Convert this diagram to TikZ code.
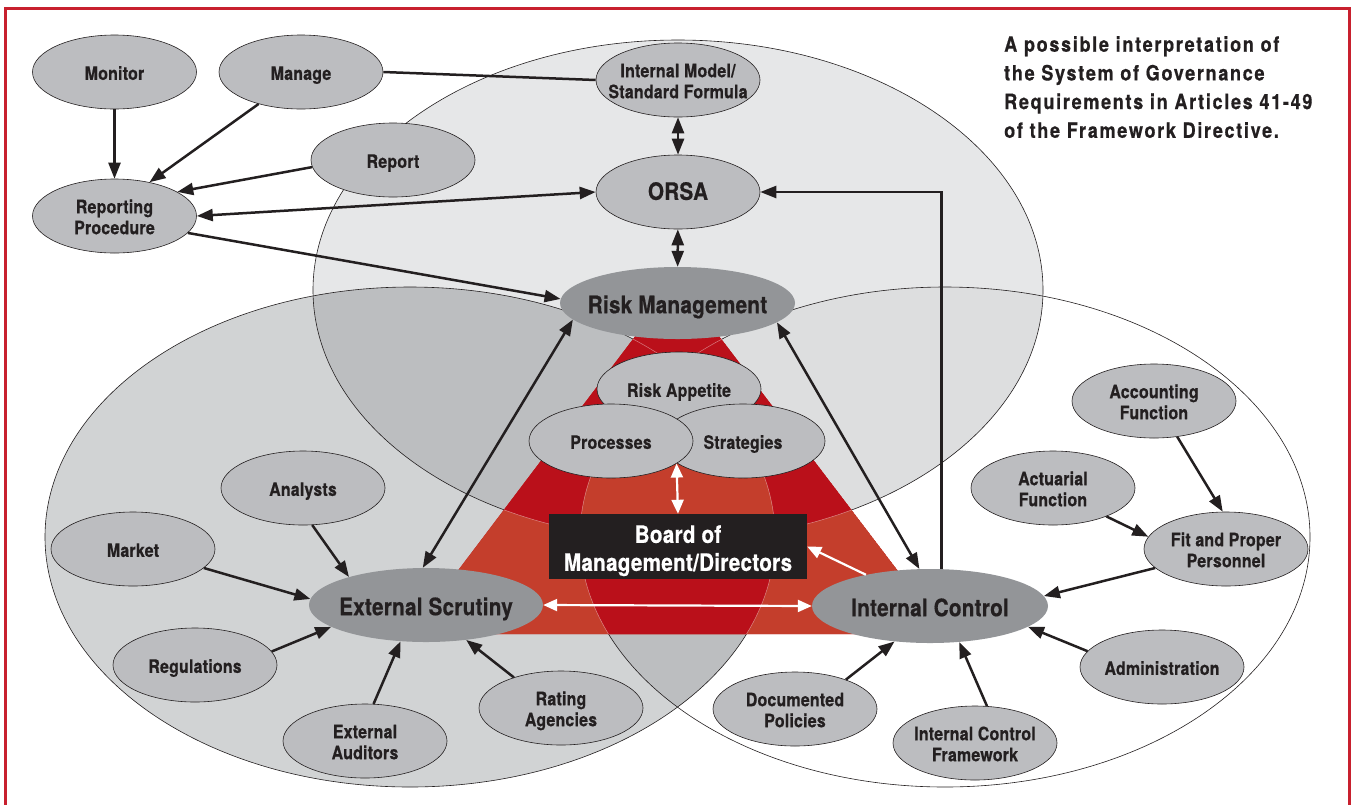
\documentclass[tikz,border=0pt]{standalone}
\usepackage{fontspec}
\newfontfamily\hfont{TeX Gyre Heros}[FakeStretch=0.86,LetterSpace=1.2,BoldFeatures={FakeBold=0.6}]
\newfontfamily\tfont{TeX Gyre Heros}[FakeStretch=0.86,LetterSpace=8,BoldFeatures={FakeBold=0.6}]
\usetikzlibrary{shapes.geometric,arrows.meta}
\definecolor{framec}{RGB}{200,32,46}
\definecolor{topc}{RGB}{230,231,232}
\definecolor{leftc}{RGB}{209,211,212}
\definecolor{ovl}{RGB}{188,190,192}
\definecolor{trc}{RGB}{221,222,223}
\definecolor{dred}{RGB}{186,16,26}
\definecolor{lred}{RGB}{196,62,44}
\definecolor{nodec}{RGB}{188,189,192}
\definecolor{mainc}{RGB}{147,149,152}
\definecolor{ink}{RGB}{35,31,32}
\newcommand{\oneL}[1]{\makebox[0pt]{\raisebox{-0.425em}[0pt][0pt]{#1}}}
\newcommand{\twoL}[2]{\makebox[0pt]{\raisebox{0.15em}[0pt][0pt]{\begin{tabular}[t]{@{}c@{}}#1\\#2\end{tabular}}}}
\begin{document}
\begin{tikzpicture}[x=1pt,y=-1pt,
  topE/.style={insert path={(678,290) ellipse [x radius=365pt, y radius=250pt]}},
  leftE/.style={insert path={(410,537) ellipse [x radius=365pt, y radius=250pt]}},
  rightE/.style={insert path={(945,537) ellipse [x radius=365pt, y radius=250pt]}},
  tri/.style={insert path={(677,281) -- (410,634) -- (946,634) -- cycle}},
  el/.style={ellipse, draw=ink, line width=0.6pt, fill=nodec, inner sep=0pt,
    minimum width=164pt, minimum height=74pt, text=ink,
    font=\hfont\bfseries\fontsize{18.5}{21}\selectfont},
  mainel/.style={ellipse, fill=mainc, inner sep=0pt, minimum width=235pt,
    minimum height=74pt, text=ink, font=\hfont\bfseries\fontsize{24}{28}\selectfont},
  boardbox/.style={rectangle, fill=ink, inner sep=0pt, minimum width=258pt,
    minimum height=65pt, text=white, font=\hfont\bfseries\fontsize{24}{28}\selectfont},
  tip/.tip={Triangle[length=16pt,width=12pt]},
  wtip/.tip={Triangle[length=14pt,width=12pt]},
  link/.style={draw=ink, line width=2.5pt},
  arr/.style={draw=ink, line width=2.5pt, -tip},
  darr/.style={draw=ink, line width=2.5pt, tip-tip},
  warr/.style={draw=white, line width=2.2pt, -wtip},
  wdarr/.style={draw=white, line width=2.2pt, wtip-wtip},
  circline/.style={draw=ink, line width=0.6pt}
]
\useasboundingbox (0,0) rectangle (1354,804);
\clip (0,0) rectangle (1354,804);

% big circles
\fill[leftc, leftE];
\begin{scope}
  \path[clip, leftE];
  \fill[ovl, rightE];
\end{scope}
\fill[topc, topE];
\begin{scope}
  \path[clip, topE];
  \fill[trc, rightE];
  \fill[ovl, leftE];
\end{scope}
\path[circline, topE];
\path[circline, leftE];
\path[circline, rightE];

% red triangle
\begin{scope}
  \path[clip, tri];
  \fill[dred, tri];
  \fill[lred, leftE];
  \fill[lred, rightE];
  \begin{scope}
    \path[clip, leftE];
    \fill[dred, rightE];
  \end{scope}
  \fill[dred, topE];
  \begin{scope}
    \path[clip, topE];
    \path[clip, leftE];
    \fill[lred, rightE];
  \end{scope}
  \path[draw=white, draw opacity=0.45, line width=0.5pt, topE];
  \path[draw=white, draw opacity=0.45, line width=0.5pt, leftE];
  \path[draw=white, draw opacity=0.45, line width=0.5pt, rightE];
\end{scope}

% frame
\draw[framec, line width=2.6pt] (5.5,8.5) rectangle (1349.5,840);

% title
\node[anchor=base west, inner sep=0pt, text=ink,
  font=\tfont\bfseries\fontsize{21}{28.7}\selectfont] (title) at (1004,51.7)
  {\begin{tabular}[t]{@{}l@{}}A possible interpretation of\\the System of Governance\\Requirements in Articles 41-49\\of the Framework Directive.\end{tabular}};

% nodes
\node[el] (mon) at (114.5,72) {\oneL{Monitor}};
\node[el] (mng) at (301,72) {\oneL{Manage}};
\node[el] (rep) at (393,160) {\oneL{Report}};
\node[el] (rp) at (114.5,216) {\twoL{Reporting}{Procedure}};
\node[el] (im) at (678,80) {\twoL{Internal Model/}{Standard Formula}};
\node[el] (orsa) at (678,192) {\oneL{\fontsize{24}{28}\selectfont ORSA}};
\node[mainel, minimum height=72pt] (rm) at (677.5,303) {\oneL{Risk Management}};
\node[el] (ra) at (679,389) {\oneL{Risk Appetite}};
\node[el] (strat) at (743,441) {\oneL{Strategies}};
\node[el] (proc) at (611,441) {\oneL{Processes}};
\node[boardbox] (board) at (678,546.5) {\twoL{Board of}{Management/Directors}};
\node[mainel, minimum width=234pt] (es) at (426,605) {\oneL{External Scrutiny}};
\node[mainel, minimum width=236pt] (ic) at (930,606) {\oneL{Internal Control}};
\node[el] (ana) at (303,488) {\oneL{Analysts}};
\node[el] (mkt) at (133,549) {\oneL{Market}};
\node[el] (reg) at (195,665) {\oneL{Regulations}};
\node[el] (aud) at (365,741) {\twoL{External}{Auditors}};
\node[el] (rat) at (561,708) {\twoL{Rating}{Agencies}};
\node[el] (acc) at (1154,401) {\twoL{Accounting}{Function}};
\node[el] (act) at (1053,488) {\twoL{Actuarial}{Function}};
\node[el] (fit) at (1226,549) {\twoL{Fit and Proper}{Personnel}};
\node[el] (adm) at (1162,667) {\oneL{Administration}};
\node[el] (doc) at (795,709) {\twoL{Documented}{Policies}};
\node[el] (icf) at (975,743) {\twoL{Internal Control}{Framework}};

% connectors
\draw[arr] (mon) -- (rp);
\draw[arr] (mng.217) -- (rp.44);
\draw[arr] (rep.185) -- (rp.21);
\draw[link] (mng.east) -- (im.west);
\draw[darr] (rp.east) -- (orsa.west);
\draw[arr] (rp.347) -- (rm.178);
\draw[darr] (im) -- (orsa);
\draw[darr] (orsa) -- (rm);
\draw[darr] (rm.189) -- (es.95);
\draw[darr] (rm.349.5) -- (ic.106);
\draw[arr] (ic.73) |- (orsa.east);
\draw[arr] (ana.284) -- (es.160);
\draw[arr] (mkt.345) -- (es.177);
\draw[arr] (reg.10) -- (es.193);
\draw[arr] (aud.77.5) -- (es.235);
\draw[arr] (rat.147) -- (es.319);
\draw[arr] (acc.303) -- (fit.95);
\draw[arr] (act.332) -- (fit.171);
\draw[arr] (fit.195) -- (ic.5);
\draw[arr] (adm.168) -- (ic.348);
\draw[arr] (icf.72) -- (ic.309);
\draw[arr] (doc.30) -- (ic.225);
\draw[wdarr] (proc.341.6) -- (board.north);
\draw[wdarr] (es.east) -- (ic.west);
\draw[warr] (ic.154.5) -- (board.east);
\end{tikzpicture}
\end{document}
